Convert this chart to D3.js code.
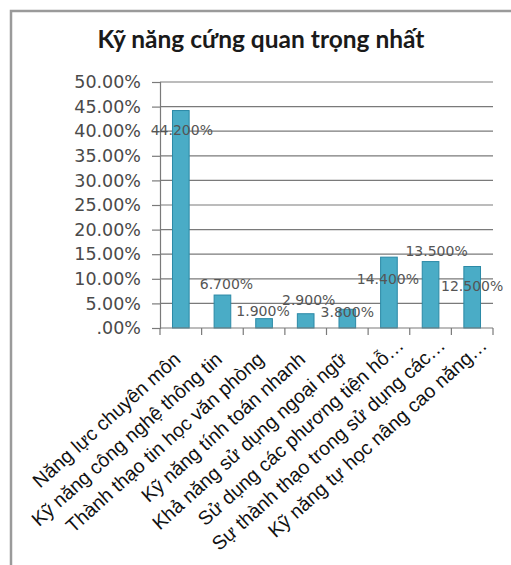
<!DOCTYPE html>
<html>
<head>
<meta charset="utf-8">
<script src="https://cdn.jsdelivr.net/npm/d3@7"></script>
<style>
  body { margin: 0; background: #fff; }
  svg { display: block; }
</style>
</head>
<body>
<svg id="chart"></svg>
<script>
// chart data
var title = "Kỹ năng cứng quan trọng nhất";
var categories = [
	"Năng lực chuyên môn",
	"Kỹ năng công nghệ thông tin",
	"Thành thạo tin học văn phòng",
	"Kỹ năng tính toán nhanh",
	"Khả năng sử dụng ngoại ngữ",
	"Sử dụng các phương tiện hỗ…",
	"Sự thành thạo trong sử dụng các…",
	"Kỹ năng tự học nâng cao năng…"
];
var values = [44.2, 6.7, 1.9, 2.9, 3.8, 14.4, 13.5, 12.5];
var yTicks = [0, 5, 10, 15, 20, 25, 30, 35, 40, 45, 50];

// hand-dragged data label offsets (px, relative to bar top / center)
var labelDx = [1, 4, -1, 3, 0, -1, 6, 0];
var labelDy = [20, -11, -8, -14, 3, 22, -10, 20];

var width = 511, height = 565;
var svg = d3.select("#chart").attr("width", width).attr("height", height);

var margin = { left: 160, right: 18, top: 82, bottom: 237 };

var x = d3.scaleBand()
	.domain(categories)
	.range([margin.left, width - margin.right])
	.paddingInner(0.6)
	.paddingOuter(0.3);

var y = d3.scaleLinear()
	.domain([0, 50])
	.range([height - margin.bottom, margin.top]);

// frame
svg.append("path")
	.attr("d", "M11,565 V11 H511")
	.attr("fill", "none")
	.attr("stroke", "#9a9a9a")
	.attr("stroke-width", 2.5);

// title
svg.append("text")
	.attr("x", 261)
	.attr("y", 48)
	.attr("text-anchor", "middle")
	.style("font-family", "Lato, 'Open Sans', sans-serif")
	.style("font-weight", "bold")
	.style("font-size", "24.5px")
	.style("fill", "#1a1a1a")
	.text(title);

// gridlines
svg.append("g")
	.selectAll("line")
	.data(yTicks.filter(function(d) { return d > 0; }))
	.enter().append("line")
	.attr("x1", margin.left)
	.attr("x2", width - margin.right)
	.attr("y1", function(d) { return y(d); })
	.attr("y2", function(d) { return y(d); })
	.attr("stroke", "#7a7a7a")
	.attr("stroke-width", 1.2);

// y axis
var yAxis = d3.axisLeft(y)
	.tickValues(yTicks)
	.tickSize(8)
	.tickPadding(11)
	.tickFormat(function(d) { return d === 0 ? ".00%" : d.toFixed(2) + "%"; });

var yg = svg.append("g")
	.attr("transform", "translate(" + margin.left + ",0)")
	.call(yAxis);
yg.selectAll("path, line").attr("stroke", "#7a7a7a").attr("stroke-width", 1.2);
yg.selectAll("text")
	.style("font-family", "'DejaVu Sans', Verdana, sans-serif")
	.style("font-size", "17.5px")
	.style("fill", "#4a4a4a");

// bars
svg.append("g")
	.selectAll("rect")
	.data(values)
	.enter().append("rect")
	.attr("x", function(d, i) { return x(categories[i]); })
	.attr("y", function(d) { return y(d); })
	.attr("width", x.bandwidth())
	.attr("height", function(d) { return y(0) - y(d); })
	.attr("fill", "#4aacc6")
	.attr("stroke", "#2b89a6")
	.attr("stroke-width", 1);

// x axis
var xg = svg.append("g")
	.attr("transform", "translate(0," + y(0) + ")");
xg.append("line")
	.attr("x1", margin.left)
	.attr("x2", width - margin.right)
	.attr("stroke", "#7a7a7a")
	.attr("stroke-width", 1.2);
xg.selectAll(".tick")
	.data(d3.range(categories.length + 1))
	.enter().append("line")
	.attr("x1", function(i) { return margin.left + i * (width - margin.right - margin.left) / categories.length; })
	.attr("x2", function(i) { return margin.left + i * (width - margin.right - margin.left) / categories.length; })
	.attr("y2", 7)
	.attr("stroke", "#7a7a7a")
	.attr("stroke-width", 1.2);

// truncated labels sit a little further out along the slant, like Excel does
xg.selectAll("text")
	.data(categories)
	.enter().append("text")
	.attr("transform", function(d) {
		var cut = d.slice(-1) === "…";
		var tx = x(d) + x.bandwidth() / 2 + (cut ? 16 : 1);
		var ty = cut ? 19 : 33;
		return "translate(" + tx + "," + ty + ") rotate(-42)";
	})
	.attr("text-anchor", "end")
	.style("font-family", "'Liberation Sans', Arial, sans-serif")
	.style("font-size", "19.5px")
	.style("fill", "#111")
	.text(function(d) { return d; });

// data labels
svg.append("g")
	.selectAll("text")
	.data(values)
	.enter().append("text")
	.attr("x", function(d, i) { return x(categories[i]) + x.bandwidth() / 2 + labelDx[i]; })
	.attr("y", function(d, i) { return y(d) + labelDy[i]; })
	.attr("dy", "0.35em")
	.attr("text-anchor", "middle")
	.style("font-family", "'DejaVu Sans', Verdana, sans-serif")
	.style("font-size", "14px")
	.style("fill", "#555")
	.text(function(d) { return d.toFixed(3) + "%"; });
</script>
</body>
</html>
